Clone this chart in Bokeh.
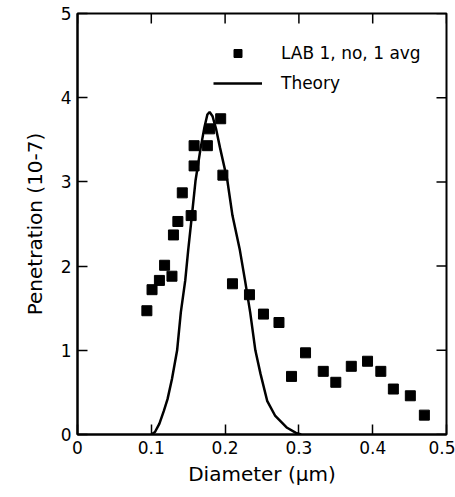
from bokeh.plotting import figure
from bokeh.models import Range1d, FixedTicker, Legend, LegendItem, ColumnDataSource
from bokeh.embed import file_html
from bokeh.resources import INLINE

# Measured penetration, LAB 1 (no neutralizer, 1 average)
lab_diameter = [0.094, 0.101, 0.111, 0.118, 0.128, 0.130, 0.136, 0.142, 0.154,
                0.158, 0.158, 0.176, 0.179, 0.194, 0.197, 0.210, 0.233, 0.252,
                0.273, 0.290, 0.309, 0.333, 0.350, 0.371, 0.393, 0.411, 0.428,
                0.451, 0.470]
lab_penetration = [1.47, 1.72, 1.83, 2.01, 1.88, 2.37, 2.53, 2.87, 2.60,
                   3.19, 3.43, 3.43, 3.63, 3.75, 3.08, 1.79, 1.66, 1.43,
                   1.33, 0.69, 0.97, 0.75, 0.62, 0.81, 0.87, 0.75, 0.54,
                   0.46, 0.23]

# Theoretical penetration curve
theory_diameter = [0.100, 0.105, 0.111, 0.117, 0.122, 0.128, 0.135, 0.140, 0.146,
                   0.150, 0.155, 0.160, 0.167, 0.172, 0.176, 0.179, 0.183, 0.188,
                   0.193, 0.203, 0.210, 0.220, 0.227, 0.234, 0.241, 0.248, 0.257,
                   0.268, 0.284, 0.296, 0.303]
theory_penetration = [0.00, 0.03, 0.13, 0.28, 0.42, 0.66, 1.00, 1.45, 1.83,
                      2.19, 2.60, 3.02, 3.41, 3.65, 3.80, 3.83, 3.78, 3.62,
                      3.41, 3.02, 2.60, 2.19, 1.83, 1.45, 1.00, 0.72, 0.40,
                      0.22, 0.08, 0.02, 0.00]

x_ticks = [0, 0.1, 0.2, 0.3, 0.4, 0.5]
x_tick_labels = ["0", "0.1", "0.2", "0.3", "0.4", "0.5"]
y_ticks = [0, 1, 2, 3, 4, 5]
y_tick_labels = ["0", "1", "2", "3", "4", "5"]

X_MIN, X_MAX = 0, 0.5
Y_MIN, Y_MAX = 0, 5
TICK_LEN = 10
FONT = "DejaVu Sans"

p = figure(width=455, height=497, output_backend="svg", toolbar_location=None,
           x_range=Range1d(X_MIN, X_MAX), y_range=Range1d(Y_MIN, Y_MAX),
           min_border_left=77, min_border_right=9, min_border_top=13, min_border_bottom=63,
           x_axis_label="Diameter (\u03bcm)", y_axis_label="Penetration (10-7)")
p.grid.visible = False
p.outline_line_color = "black"
p.outline_line_width = 2
p.background_fill_color = "white"
p.border_fill_color = "white"

for ax in (p.xaxis[0], p.yaxis[0]):
    ax.axis_line_width = 2
    ax.major_tick_in = TICK_LEN
    ax.major_tick_out = 0
    ax.major_tick_line_width = 1.5
    ax.minor_tick_line_color = None
    ax.major_label_text_font = FONT
    ax.major_label_text_font_size = "17px"
    ax.major_label_text_color = "black"
    ax.axis_label_text_font = FONT
    ax.axis_label_text_font_style = "normal"
    ax.axis_label_text_font_size = "20px"
    ax.axis_label_text_color = "black"

p.xaxis[0].ticker = FixedTicker(ticks=x_ticks)
p.xaxis[0].major_label_overrides = dict(zip(x_ticks, x_tick_labels))
p.xaxis[0].major_label_standoff = 6
p.xaxis[0].axis_label_standoff = 5
p.yaxis[0].ticker = FixedTicker(ticks=y_ticks)
p.yaxis[0].major_label_overrides = dict(zip(y_ticks, y_tick_labels))
p.yaxis[0].major_label_standoff = 6
p.yaxis[0].axis_label_standoff = 11

# Inward ticks along the top and right edges of the frame
p.ray(x=x_ticks, y=[Y_MAX] * len(x_ticks), length=TICK_LEN, length_units="screen",
      angle=-90, angle_units="deg", line_color="black", line_width=1.5)
p.ray(x=[X_MAX] * len(y_ticks), y=y_ticks, length=TICK_LEN, length_units="screen",
      angle=180, angle_units="deg", line_color="black", line_width=1.5)

lab_src = ColumnDataSource(dict(x=lab_diameter, y=lab_penetration))
theory_src = ColumnDataSource(dict(x=theory_diameter, y=theory_penetration))

theory_r = p.line("x", "y", source=theory_src, line_color="black", line_width=2.5)
lab_r = p.scatter("x", "y", source=lab_src, marker="square", size=10,
                  fill_color="black", line_color="black")

legend = Legend(items=[LegendItem(label="LAB 1, no, 1 avg", renderers=[lab_r]),
                       LegendItem(label="Theory", renderers=[theory_r])],
                location=(136, 341), orientation="vertical",
                glyph_width=49, glyph_height=20, label_height=20, label_standoff=19,
                spacing=10, padding=0, margin=0, border_line_color=None,
                background_fill_alpha=0,
                label_text_font=FONT, label_text_font_size="17px", label_text_color="black")
p.add_layout(legend)

open("out.html", "w").write(file_html(p, INLINE))
